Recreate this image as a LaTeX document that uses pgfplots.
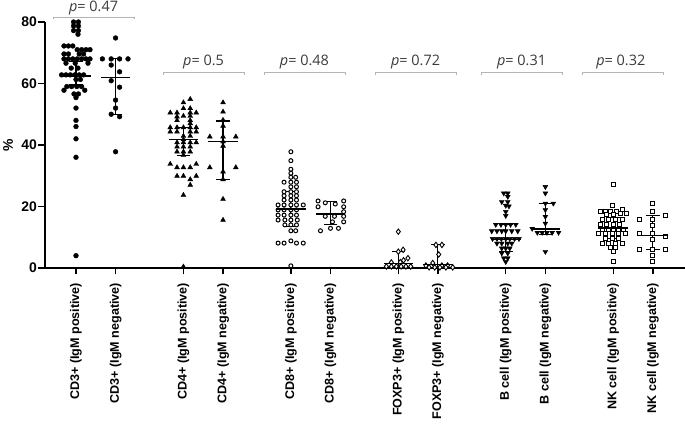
\documentclass[border=0pt]{standalone}
\usepackage{pgfplots}
\pgfplotsset{compat=1.18}
\usepackage{fontspec}
\setmainfont{Liberation Sans}
\newfontfamily\pfont{Open Sans}
\definecolor{brk}{HTML}{B4B4B4}
\definecolor{ptxt}{HTML}{3A3A3A}
\begin{document}
\begin{tikzpicture}
\begin{axis}[
  scale only axis, width=640bp, height=246bp,
  xmin=-0.775, xmax=15.225, ymin=0, ymax=80,
  axis x line=bottom, axis y line=left,
  axis line style={-, line width=1.7pt},
  xtick={0,0.99,2.686,3.676,5.372,6.362,8.058,9.048,10.744,11.734,13.43,14.42},
  xticklabels={CD3+ (IgM positive),CD3+ (IgM negative),CD4+ (IgM positive),CD4+ (IgM negative),CD8+ (IgM positive),CD8+ (IgM negative),FOXP3+ (IgM positive),FOXP3+ (IgM negative),B cell (IgM positive),B cell (IgM negative),NK cell (IgM positive),NK cell (IgM negative)},
  ytick={0,20,40,60,80},
  tick align=outside, major tick length=6.5bp,
  tick style={black, line width=1.4pt},
  /pgf/number format/assume math mode=true,
  yticklabel style={font=\bfseries\fontsize{14}{16}\selectfont, inner sep=1.5bp},
  xticklabel style={font=\bfseries\fontsize{12.6}{14}\selectfont, yshift=-5bp, rotate=90, anchor=east},
  clip=false,
]
% CD3+ positive
\addplot[only marks, mark=*, mark size=2.4bp, black] table[x expr=\thisrow{d}, y=v] {
d v
-0.06 80.0
0.06 80.0
-0.06 78.7
0.06 78.7
-0.06 77.2
0.06 77.2
0.05 76.0
-0.30 72.2
-0.19 72.2
-0.08 72.2
0.03 71.0
0.14 71.0
0.25 71.0
0.35 71.0
-0.30 69.6
-0.19 69.6
0.08 69.6
0.19 69.6
-0.30 68.0
-0.19 68.0
-0.08 68.0
0.03 68.0
0.14 68.0
0.25 68.0
0.35 68.0
-0.25 66.6
-0.02 66.6
0.30 66.6
-0.12 65.0
0.05 65.0
-0.36 62.8
-0.25 62.8
-0.14 62.8
-0.03 62.8
0.08 62.8
0.19 62.8
0.00 61.3
0.11 61.3
-0.23 59.0
-0.11 59.0
0.02 59.0
0.14 59.0
-0.30 57.8
0.22 57.8
-0.05 56.6
0.06 56.6
0.00 55.4
0 52.0
0 48.0
0 46.0
0 42.0
0 36.0
0 4.0
};
% CD3+ negative
\addplot[only marks, mark=*, mark size=2.4bp, black] table[x expr=\thisrow{d}+0.99, y=v] {
d v
0 74.8
-0.33 68.0
-0.11 68.0
0.10 68.0
0.31 68.0
-0.11 66.0
0.10 63.8
-0.11 60.9
0.10 58.8
0 54.6
0 52.0
-0.11 50.0
0.10 49.2
0 37.8
};
% CD4+ positive
\addplot[only marks, mark=triangle*, mark size=2.8bp, black] table[x expr=\thisrow{d}+2.686, y=v] {
d v
0.17 54.9
0 53.8
0 51.9
0.17 51.9
-0.33 50.5
-0.16 50.5
0.17 50.5
0.32 50.5
-0.16 49.2
0 49.4
0.17 49.4
-0.16 48.0
0.17 48.0
0.17 47.0
-0.33 45.7
-0.16 45.7
0 45.7
0.17 45.7
0.32 45.7
-0.33 44.3
-0.16 44.3
0.17 44.3
0.32 44.3
0 42.9
0.17 42.9
0 41.8
-0.16 40.8
0 40.8
0.17 40.8
0.32 40.8
-0.16 39.4
0 39.4
0.17 39.4
-0.16 37.8
0 37.8
0.17 37.8
0 36.7
-0.33 33.8
0.32 33.8
-0.16 32.7
0 32.7
0.17 32.7
-0.16 29.9
0 29.9
0.32 29.9
0.17 28.8
0.17 27.0
0 23.7
0 0.4
};
% CD4+ negative
\addplot[only marks, mark=triangle*, mark size=2.8bp, black] table[x expr=\thisrow{d}+3.676, y=v] {
d v
0 53.8
0 50.8
0 48.1
0 46.2
-0.33 42.7
0 42.7
0.32 42.7
0 41.1
0 39.7
-0.33 32.7
0.32 32.7
0 31.3
0 28.8
0 22.4
0 15.6
};
% CD8+ positive
\addplot[only marks, mark=*, mark size=2.0bp, mark options={fill=white, draw=black, line width=1pt}] table[x expr=\thisrow{d}+5.372, y=v] {
d v
0 37.8
0 34.9
0 32.1
0 30.8
0 29.5
0.12 29.5
-0.17 27.9
0 27.9
0.14 27.9
0 26.4
0.14 26.4
-0.17 24.8
0 24.8
0.14 24.8
-0.17 23.5
0 23.5
0.14 23.5
-0.17 22.1
0 22.1
0.14 22.1
-0.32 20.5
-0.17 20.5
0 20.5
0.14 20.5
0.31 20.5
-0.32 18.9
-0.17 18.9
0 18.9
0.14 18.9
-0.32 17.2
-0.17 17.2
0 17.2
0.14 17.2
-0.32 15.6
-0.15 15.6
0 15.6
0.16 15.6
-0.15 14.0
0 14.0
0.14 14.0
0 12.1
0.12 12.1
-0.32 8.1
-0.17 8.1
0 8.8
0.14 8.1
0.31 8.1
0 0.7
};
% CD8+ negative
\addplot[only marks, mark=*, mark size=2.0bp, mark options={fill=white, draw=black, line width=1pt}] table[x expr=\thisrow{d}+6.362, y=v] {
d v
-0.31 21.8
0.33 21.8
-0.13 21.2
0.12 20.8
-0.31 19.9
0.33 19.9
0.33 18.3
-0.13 16.8
0.10 16.8
0.33 16.8
0.05 15.0
0.33 15.0
0.00 12.9
0.20 12.9
-0.25 12.1
};
% FOXP3+ positive
\addplot[only marks, mark=diamond*, mark size=2.7bp, mark options={fill=white, draw=black, line width=0.9pt}] table[x expr=\thisrow{d}+8.058, y=v] {
d v
0 11.8
0.12 5.9
0.0 5.3
0.24 3.2
0.13 2.5
-0.175 1.8
0.05 1.9
-0.30 0.5
-0.175 0.5
-0.05 0.5
0.07 0.5
0.19 0.5
0.31 0.5
};
% FOXP3+ negative
\addplot[only marks, mark=diamond*, mark size=2.7bp, mark options={fill=white, draw=black, line width=0.9pt}] table[x expr=\thisrow{d}+9.048, y=v] {
d v
-0.05 7.5
0.10 7.5
0.02 4.4
-0.13 1.6
-0.30 0.8
0.10 0.8
0.24 0.8
-0.22 0.2
-0.08 0.2
0.05 0.2
0.20 0.2
0.37 0.2
};
% B cell positive
\addplot[only marks, mark=triangle*, mark size=2.8bp, mark options={rotate=180}, black] table[x expr=\thisrow{d}+10.744, y=v] {
d v
-0.05 24.3
0.05 24.3
0.05 23.2
-0.10 21.5
0.05 21.5
0.00 20.3
0.08 20.1
0.00 18.3
0.00 17.0
-0.25 14.1
-0.12 14.1
0.00 14.1
0.12 14.1
0.25 14.1
-0.35 12.0
-0.22 12.0
-0.10 12.0
0.00 12.0
0.15 12.0
0.30 12.0
-0.33 9.5
-0.22 9.5
-0.11 9.5
0.00 9.5
0.10 9.5
0.22 9.5
0.33 9.5
-0.22 8.0
-0.10 8.0
0.05 8.0
0.15 8.0
-0.10 6.4
0.00 6.4
0.10 6.4
-0.10 4.8
0.05 4.8
-0.05 3.2
0.05 3.2
0.00 2.0
};
% B cell negative
\addplot[only marks, mark=triangle*, mark size=2.8bp, mark options={rotate=180}, black] table[x expr=\thisrow{d}+11.734, y=v] {
d v
0 26.4
0 24.3
0 21.0
0.2 21.0
0 18.9
0 16.7
0 14.5
-0.33 12.8
-0.20 11.5
-0.08 11.5
0.04 11.5
0.17 11.5
0.33 11.5
0 5.3
};
% NK cell positive
\addplot[only marks, mark=square*, mark size=2.0bp, mark options={fill=white, draw=black, line width=1pt}] table[x expr=\thisrow{d}+13.43, y=v] {
d v
0 27.0
-0.03 20.2
0.22 19.1
-0.33 18.3
-0.20 18.3
-0.075 18.3
0.075 18.3
-0.16 17.3
0.0 17.3
0.17 17.6
0.34 17.6
-0.28 15.8
-0.12 15.8
0.05 15.8
0.22 15.8
-0.33 14.2
-0.16 14.2
0.0 14.2
0.16 14.2
-0.28 12.6
-0.12 12.6
0.0 12.6
0.13 12.6
0.26 12.6
-0.37 11.3
-0.2 11.3
-0.03 11.3
0.13 11.3
0.30 11.3
-0.2 9.7
-0.03 9.7
0.13 9.7
-0.28 8.0
-0.12 8.0
0.05 8.0
0.22 8.0
-0.075 6.7
0.05 6.7
0 5.3
0 2.0
};
% NK cell negative
\addplot[only marks, mark=square*, mark size=2.0bp, mark options={fill=white, draw=black, line width=1pt}] table[x expr=\thisrow{d}+14.42, y=v] {
d v
0 21.0
0 18.3
0.32 17.2
-0.33 15.8
0 15.8
0 13.7
-0.33 11.3
0 11.3
0.32 10.2
0 9.4
-0.33 5.9
0 5.9
0.32 5.9
0 3.9
0 2.0
};
% means with whiskers
\addplot[only marks, mark=-, mark size=14.8bp, mark options={line width=1.6pt}, black,
  error bars/.cd, y dir=both, y explicit,
  error bar style={line width=1.1pt, black},
  error mark options={rotate=90, mark size=6.8bp, line width=1.1pt}]
  coordinates {
  (0,62.5) += (0,4.6) -= (0,3.0)
  (0.99,62.0) += (0,6.0) -= (0,12.2)
  (2.686,41.8) += (0,3.9) -= (0,5.1)
  (3.676,41.1) += (0,6.7) -= (0,12.3)
  (5.372,19.1) += (0,5.9) -= (0,5.6)
  (6.362,17.6) += (0,4.0) -= (0,3.6)
  (8.058,1.5) += (0,3.8) -= (0,1.2)
  (9.048,1.1) += (0,6.4) -= (0,0.8)
  (10.744,9.3) += (0,4.8) -= (0,3.8)
  (11.734,12.6) += (0,8.4) -= (0,1.6)
  (13.43,13.0) += (0,3.5) -= (0,3.5)
  (14.42,10.5) += (0,6.7) -= (0,4.6)
  };
% p-value brackets
\draw[brk, line width=0.9pt] (axis cs:-0.575,80.9) -- (axis cs:-0.575,81.6) -- (axis cs:1.45,81.6) -- (axis cs:1.45,80.9);
\draw[brk, line width=0.9pt] (axis cs:2.175,62.9) -- (axis cs:2.175,63.6) -- (axis cs:4.2,63.6) -- (axis cs:4.2,62.9);
\draw[brk, line width=0.9pt] (axis cs:4.7,62.9) -- (axis cs:4.7,63.6) -- (axis cs:6.725,63.6) -- (axis cs:6.725,62.9);
\draw[brk, line width=0.9pt] (axis cs:7.475,62.9) -- (axis cs:7.475,63.6) -- (axis cs:9.5,63.6) -- (axis cs:9.5,62.9);
\draw[brk, line width=0.9pt] (axis cs:10.125,62.9) -- (axis cs:10.125,63.6) -- (axis cs:12.15,63.6) -- (axis cs:12.15,62.9);
\draw[brk, line width=0.9pt] (axis cs:12.65,62.9) -- (axis cs:12.65,63.6) -- (axis cs:14.675,63.6) -- (axis cs:14.675,62.9);
\tikzset{pl/.style={anchor=base, text=ptxt, inner sep=0pt, font=\pfont\fontsize{14.5}{16}\selectfont}}
\node[pl] at (axis cs:0.44,83.3) {\textit{p}= 0.47};
\node[pl] at (axis cs:3.19,65.7) {\textit{p}= 0.5};
\node[pl] at (axis cs:5.71,65.7) {\textit{p}= 0.48};
\node[pl] at (axis cs:8.49,65.7) {\textit{p}= 0.72};
\node[pl] at (axis cs:11.14,65.7) {\textit{p}= 0.31};
\node[pl] at (axis cs:13.62,65.7) {\textit{p}= 0.32};
% y label
\node[rotate=90, font=\bfseries\fontsize{14}{16}\selectfont] at (rel axis cs:-0.0578,0.5) {\%};
\coordinate (bbA) at (rel axis cs:-0.0703,-0.6545);
\coordinate (bbB) at (rel axis cs:1,1.0894);
\end{axis}
\pgfresetboundingbox
\path[use as bounding box] (bbA) rectangle (bbB);
\end{tikzpicture}
\end{document}
